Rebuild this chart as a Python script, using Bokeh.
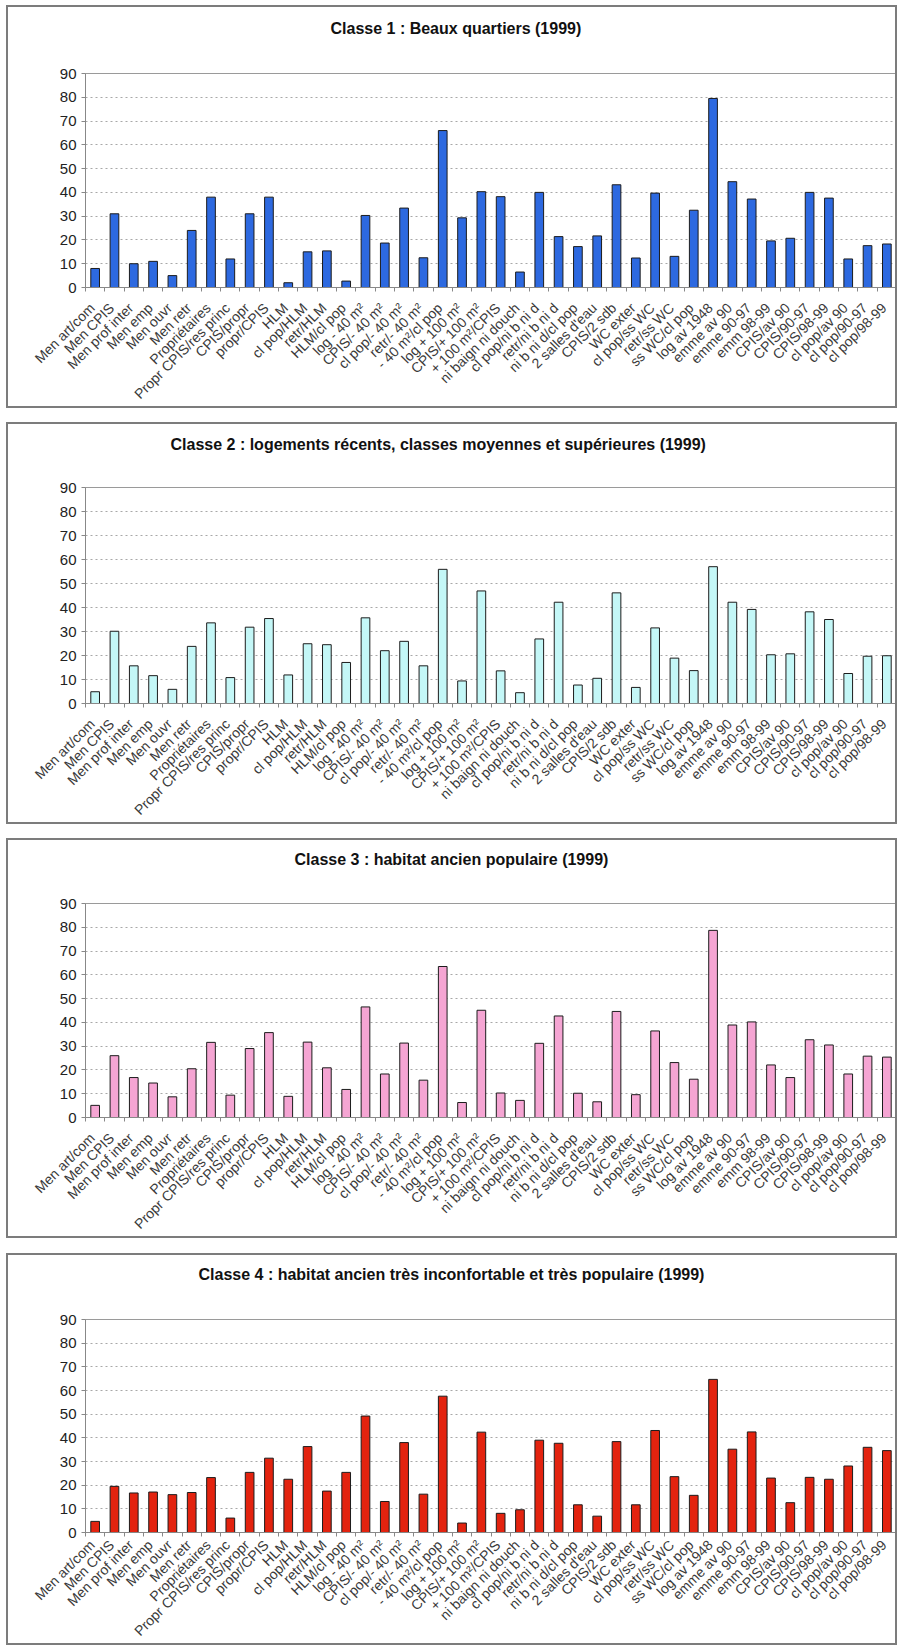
import math
from bokeh.plotting import figure
from bokeh.models import Range1d, FixedTicker, ColumnDataSource, Title
from bokeh.layouts import column
from bokeh.embed import file_html
from bokeh.resources import INLINE

# ---------------- data ----------------
labels = ["Men art/com", "Men CPIS", "Men prof inter", "Men emp", "Men ouvr", "Men retr",
          "Propriétaires", "Propr CPIS/res princ", "CPIS/propr", "propr/CPIS", "HLM",
          "cl pop/HLM", "retr/HLM", "HLM/cl pop", "log - 40 m²", "CPIS/- 40 m²",
          "cl pop/- 40 m²", "retr/- 40 m²", "- 40 m²/cl pop", "log + 100 m²",
          "CPIS/+ 100 m²", "+ 100 m²/CPIS", "ni baign ni douch", "cl pop/ni b ni d",
          "retr/ni b ni d", "ni b ni d/cl pop", "2 salles d'eau", "CPIS/2 sdb", "WC exter",
          "cl pop/ss WC", "retr/ss WC", "ss WC/cl pop", "log av 1948", "emme av 90",
          "emme 90-97", "emm 98-99", "CPIS/av 90", "CPIS/90-97", "CPIS/98-99",
          "cl pop/av 90", "cl pop/90-97", "cl pop/98-99"]

classe1 = [8, 31, 10, 11, 5, 24, 38, 12, 31, 38, 2, 15, 15.4, 2.7, 30.3, 18.7, 33.4, 12.5,
           66, 29.3, 40.3, 38.2, 6.5, 40, 21.4, 17.2, 21.7, 43.2, 12.4, 39.7, 13.1, 32.5,
           79.5, 44.5, 37.2, 19.6, 20.7, 40, 37.6, 12, 17.6, 18.3]
classe2 = [4.9, 30.1, 15.7, 11.6, 5.9, 23.8, 33.6, 10.8, 31.8, 35.4, 11.9, 24.9, 24.5, 17.1,
           35.7, 22, 25.9, 15.7, 55.9, 9.4, 46.9, 13.6, 4.5, 26.9, 42.2, 7.7, 10.5, 46.1,
           6.7, 31.5, 18.9, 13.7, 57, 42.2, 39.2, 20.3, 20.7, 38.2, 35, 12.5, 19.7, 19.9]
classe3 = [5.1, 26, 16.8, 14.5, 8.7, 20.5, 31.6, 9.4, 29, 35.7, 8.9, 31.7, 20.9, 11.8, 46.5,
           18.3, 31.3, 15.7, 63.5, 6.3, 45.1, 10.3, 7.2, 31.2, 42.7, 10.2, 6.6, 44.6, 9.6,
           36.4, 23.1, 16.1, 78.7, 38.9, 40.2, 22.1, 16.8, 32.7, 30.5, 18.3, 25.8, 25.4]
classe4 = [4.7, 19.5, 16.7, 17.1, 16, 16.9, 23.2, 6.1, 25.4, 31.4, 22.5, 36.3, 17.5, 25.4,
           49.2, 13.1, 38, 16.2, 57.6, 4, 42.4, 8.1, 9.6, 39, 37.7, 11.7, 6.9, 38.4, 11.7,
           43.1, 23.6, 15.7, 64.7, 35.2, 42.5, 23, 12.6, 23.3, 22.5, 28.1, 36, 34.6]

titles = ["Classe 1 : Beaux quartiers (1999)",
          "Classe 2 : logements récents, classes moyennes et supérieures (1999)",
          "Classe 3 : habitat ancien populaire (1999)",
          "Classe 4 : habitat ancien très inconfortable et très populaire (1999)"]

y_ticks = [0, 10, 20, 30, 40, 50, 60, 70, 80, 90]

FONT = "Liberation Sans"
OUTER_W = 891      # figure size includes its 2px CSS border
CANVAS_LEFT = 8    # absolute x of canvas (6px margin + 2px border)
MB_RIGHT = 3
LABEL_SHIFT = -0.15  # labels hang slightly left of the bar centre, as in the original


def make_panel(title, title_left, values, color, mb_top, frame_h, mb_bottom, mb_left,
               margin_top, lab_standoff, spacer):
    n = len(labels)
    xs = list(range(n))
    src = ColumnDataSource(dict(x=xs, top=values, label=labels))
    height = mb_top + frame_h + mb_bottom + 4
    p = figure(width=OUTER_W, height=height, output_backend="svg", toolbar_location=None,
               title=None,
               x_range=Range1d(-0.5, n - 0.5), y_range=Range1d(0, 90),
               min_border_top=mb_top, min_border_bottom=mb_bottom,
               min_border_left=mb_left, min_border_right=MB_RIGHT)
    p.styles = {"border": "2px solid #7c7c7c"}
    p.margin = (margin_top, 0, 0, 6)
    p.background_fill_color = "white"
    p.border_fill_color = "white"
    p.outline_line_color = "#9a9a9a"

    # blank spacer next to the plot area, then the title above it
    frame_left = CANVAS_LEFT + mb_left
    p.add_layout(Title(text="\u00a0", text_font=FONT, text_font_size="16px",
                       text_color="#ffffff", standoff=spacer), "above")
    p.add_layout(Title(text=title, align="left", offset=title_left - frame_left, standoff=10,
                       text_font=FONT, text_font_size="16px", text_font_style="bold",
                       text_color="#111111"), "above")

    p.vbar(x="x", top="top", width=0.45, source=src, fill_color=color,
           line_color="#1c1c1c", line_width=1)

    # y axis
    yax = p.yaxis[0]
    yax.ticker = FixedTicker(ticks=y_ticks)
    yax.major_label_text_font = FONT
    yax.major_label_text_font_size = "15px"
    yax.major_label_text_color = "#222222"
    yax.major_tick_out = 4
    yax.major_tick_in = 0
    yax.major_tick_line_color = "#888888"
    yax.minor_tick_line_color = None
    yax.axis_line_color = "#888888"
    yax.major_label_standoff = 5

    # x axis
    label_pos = [x + LABEL_SHIFT for x in xs]
    xax = p.xaxis[0]
    xax.ticker = FixedTicker(ticks=label_pos, minor_ticks=[i - 0.5 for i in range(n + 1)])
    xax.major_label_overrides = {pos: lab for pos, lab in zip(label_pos, labels)}
    xax.major_label_orientation = math.pi / 4
    xax.major_tick_line_color = None
    xax.major_tick_out = 0
    xax.major_tick_in = 0
    xax.minor_tick_out = 4
    xax.minor_tick_in = 0
    xax.minor_tick_line_color = "#888888"
    xax.axis_line_color = "#888888"
    xax.major_label_text_font = FONT
    xax.major_label_text_font_size = "14px"
    xax.major_label_text_color = "#3a3a3a"
    xax.major_label_standoff = lab_standoff

    p.xgrid.visible = False
    p.ygrid.ticker = FixedTicker(ticks=y_ticks)
    p.ygrid.grid_line_color = "#a8a8a8"
    p.ygrid.grid_line_dash = "2 3"
    return p


p1 = make_panel(titles[0], 330, classe1, "#2d69e0", 66, 213, 120, 77, 5, 14, 13)
p2 = make_panel(titles[1], 165, classe2, "#c4f7f7", 63, 215, 120, 72, 14, 14, 11)
p3 = make_panel(titles[2], 287, classe3, "#f5a5d3", 63, 213, 120, 70, 14, 14, 12)
p4 = make_panel(titles[3], 198, classe4, "#e3230f", 64, 213, 111, 77, 15, 6, 13)

layout = column(p1, p2, p3, p4, spacing=0)

with open("out.html", "w") as f:
    f.write(file_html(layout, INLINE, "Classes"))
